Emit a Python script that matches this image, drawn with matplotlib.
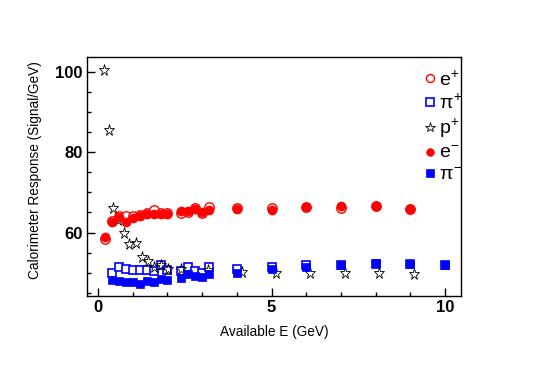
import matplotlib
matplotlib.use("Agg")
import matplotlib.pyplot as plt
from matplotlib.ticker import MultipleLocator

plt.rcParams["font.family"] = ["Liberation Sans", "DejaVu Sans"]
plt.rcParams["mathtext.fontset"] = "custom"
plt.rcParams["mathtext.rm"] = "Liberation Sans"
plt.rcParams["mathtext.it"] = "Liberation Sans"

# -----------------------------------
# Data
# -----------------------------------

e_x = [0.2, 0.4, 0.6, 0.8, 1.0, 1.2, 1.4, 1.6, 1.8, 2.0,
       2.4, 2.6, 2.8, 3.0, 3.2, 4.0, 5.0, 6.0, 7.0, 8.0, 9.0]
e_plus = [58.3, 62.8, 64.2, 64.1, 64.0, 64.4, 64.8, 65.5, 64.8, 64.9,
          64.9, 65.2, 66.0, 64.8, 66.3, 66.2, 66.1, 66.4, 66.2, 66.5, 65.9]
e_minus = [58.9, 62.5, 63.9, 62.6, 63.7, 64.1, 64.6, 64.7, 64.7, 64.7,
           65.3, 65.3, 65.8, 65.1, 65.5, 65.8, 65.6, 66.4, 66.6, 66.5, 65.8]

pi_x = [0.4, 0.6, 0.8, 1.0, 1.2, 1.4, 1.6, 1.8, 2.0,
        2.4, 2.6, 2.8, 3.0, 3.2, 4.0, 5.0, 6.0, 7.0, 8.0, 9.0, 10.0]
pi_plus = [49.9, 51.5, 51.0, 50.7, 50.7, 50.7, 50.5, 51.9, 50.7,
           50.5, 51.3, 50.5, 50.0, 51.5, 51.0, 51.5, 51.9, 52.0, 52.2, 52.2, 52.0]
pi_minus = [48.3, 48.0, 47.8, 47.7, 47.2, 48.0, 47.7, 48.5, 48.3,
            48.75, 49.6, 49.2, 49.0, 49.75, 50.0, 50.9, 51.5, 51.9, 52.4, 52.2, 52.0]

p_x = [0.17, 0.30, 0.44, 0.58, 0.76, 0.89, 1.08, 1.26, 1.44, 1.60,
       1.82, 2.02, 2.40, 3.17, 4.15, 5.13, 6.12, 7.11, 8.10, 9.10]
p_plus = [100.4, 85.5, 66.2, 63.1, 59.8, 57.1, 57.3, 53.9, 52.8, 51.3,
          52.0, 50.8, 51.0, 50.6, 50.1, 50.0, 50.0, 50.0, 50.0, 49.8]

# -----------------------------------
# Figure
# -----------------------------------

fig = plt.figure(figsize=(5.46, 3.70), dpi=100)
ax = fig.add_axes([87 / 546, 1 - 296 / 370, 374 / 546, 239 / 370])

ax.plot(e_x, e_plus, "o", ls="none", ms=6.8, mfc="white", mec="red",
        mew=1.0, label=r"e$^{+}$")
ax.plot(pi_x, pi_plus, "s", ls="none", ms=6.2, mfc="white", mec="blue",
        mew=1.2, label=r"$\pi^{+}$")
ax.plot(p_x, p_plus, "*", ls="none", ms=8.2, mfc="none", mec="black",
        mew=0.6, label=r"p$^{+}$")
ax.plot(e_x, e_minus, "o", ls="none", ms=6.5, mfc="red", mec="red",
        mew=0.5, label=r"e$^{-}$")
ax.plot(pi_x, pi_minus, "s", ls="none", ms=6.2, mfc="blue", mec="blue",
        mew=0.5, label=r"$\pi^{-}$")

ax.set_xlim(-0.32, 10.46)
ax.set_ylim(44.2, 103.7)

ax.xaxis.set_major_locator(MultipleLocator(5))
ax.xaxis.set_minor_locator(MultipleLocator(1))
ax.yaxis.set_major_locator(MultipleLocator(20))
ax.yaxis.set_minor_locator(MultipleLocator(5))

ax.tick_params(which="both", direction="in", top=False, right=False,
               width=1, labelsize=12)
ax.tick_params(which="major", length=6, pad=3)
ax.tick_params(which="minor", length=3)

for lab in ax.get_xticklabels() + ax.get_yticklabels():
    lab.set_fontweight("bold")

for s in ax.spines.values():
    s.set_linewidth(1)

ax.set_xlabel("Available E (GeV)", fontsize=9.8)
ax.set_ylabel("Calorimeter Response (Signal/GeV)", fontsize=9.8)
ax.xaxis.set_label_coords(0.5, -0.12)
ax.yaxis.set_label_coords(-0.12, 0.525)

ax.legend(loc="upper left", bbox_to_anchor=(423 / 546, 1 - 70 / 370),
          bbox_transform=fig.transFigure, frameon=False, fontsize=14,
          handlelength=0.7, handletextpad=0.1, labelspacing=0.22,
          borderpad=0, borderaxespad=0, markerscale=0.85)

fig.savefig("out.png", dpi=100)
